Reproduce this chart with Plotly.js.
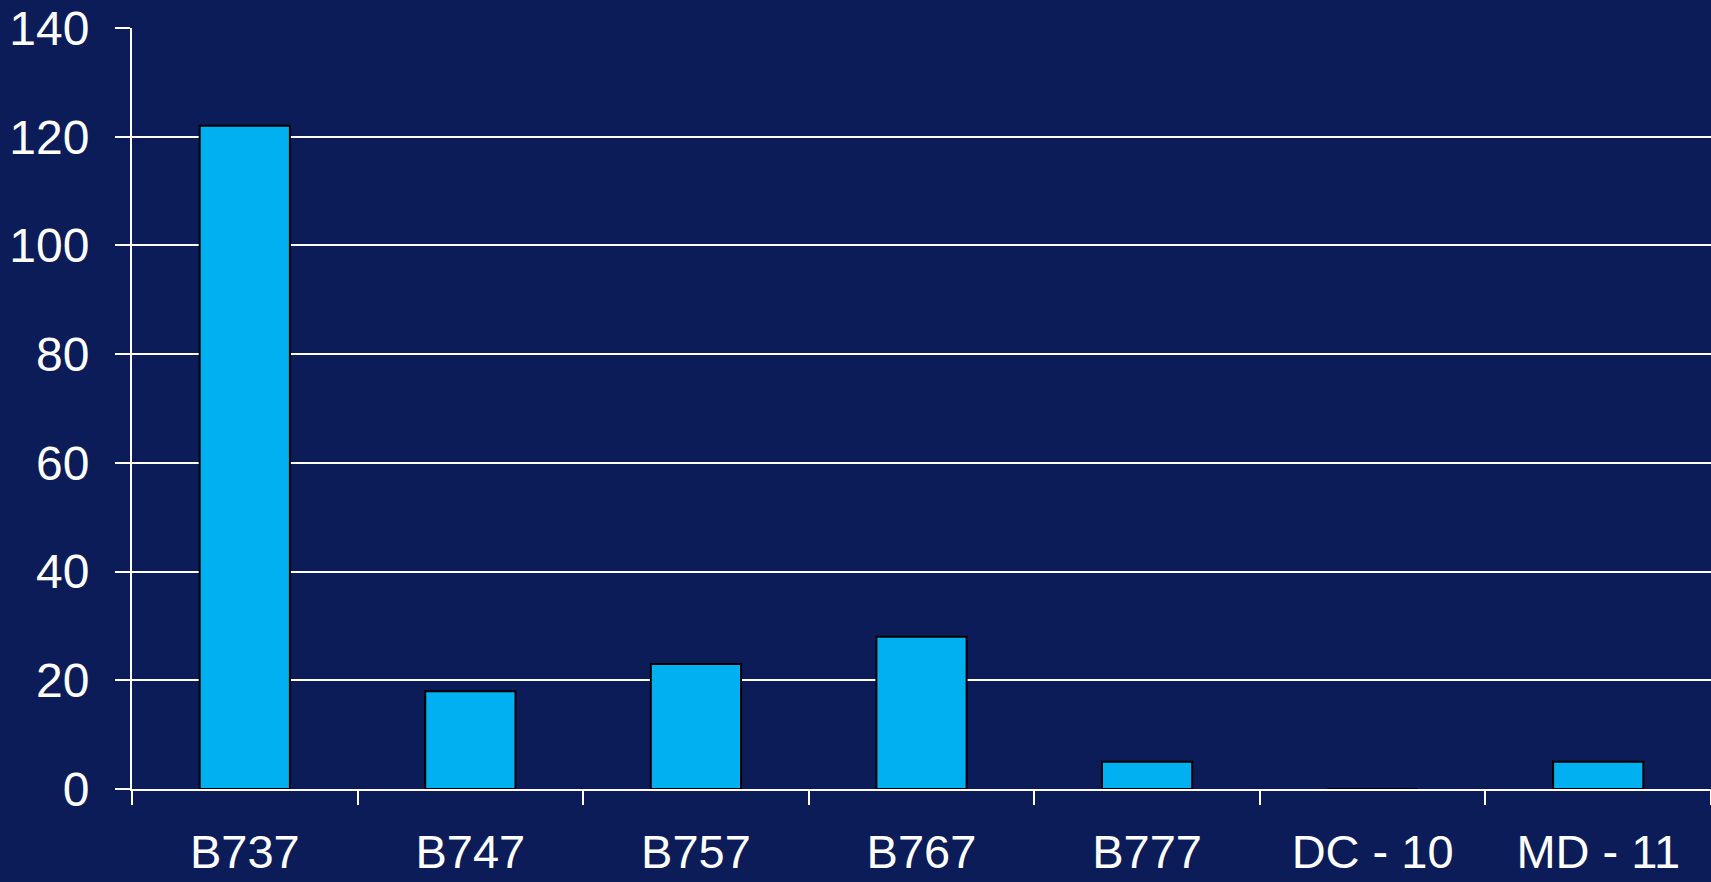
<!DOCTYPE html>
<html>
<head>
<meta charset="utf-8">
<script src="https://cdn.plot.ly/plotly-3.0.1.min.js"></script>
<style>
  html, body { margin: 0; padding: 0; background: #0b1c59; }
  #chart { width: 1711px; height: 882px; }
</style>
</head>
<body>
<div id="chart"></div>
<script>
const categories = ["B737", "B747", "B757", "B767", "B777", "DC - 10", "MD - 11"];
const counts = [122, 18, 23, 28, 5, 0, 5];
const yTicks = [0, 20, 40, 60, 80, 100, 120, 140];

const trace = {
  type: "bar",
  x: categories,
  y: counts,
  width: 0.4,
  marker: { color: "#00b0f0", line: { color: "#000000", width: 2 } },
  hoverinfo: "x+y"
};

const layout = {
  width: 1711,
  height: 882,
  paper_bgcolor: "#0b1c59",
  plot_bgcolor: "#0b1c59",
  margin: { l: 132, r: 0, t: 28, b: 93 },
  showlegend: false,
  font: { family: "Liberation Sans, Arial, sans-serif", color: "#ffffff", size: 48 },
  xaxis: {
    type: "category",
    tickson: "boundaries",
    ticks: "outside",
    ticklen: 14,
    tickwidth: 2,
    tickcolor: "#ffffff",
    showline: true,
    linecolor: "#ffffff",
    linewidth: 2,
    showgrid: false,
    zeroline: false,
    ticklabelstandoff: 21,
    tickfont: { size: 47, color: "#ffffff" }
  },
  yaxis: {
    range: [0, 140],
    tickvals: yTicks,
    ticktext: yTicks.map(String),
    ticks: "outside",
    ticklen: 15,
    tickwidth: 2,
    tickcolor: "#ffffff",
    showline: true,
    linecolor: "#ffffff",
    linewidth: 2,
    showgrid: true,
    gridcolor: "#ffffff",
    gridwidth: 2,
    zeroline: false,
    ticklabelstandoff: 16,
    tickfont: { size: 48, color: "#ffffff" }
  }
};

Plotly.newPlot("chart", [trace], layout, { displayModeBar: false, staticPlot: true });
</script>
</body>
</html>
